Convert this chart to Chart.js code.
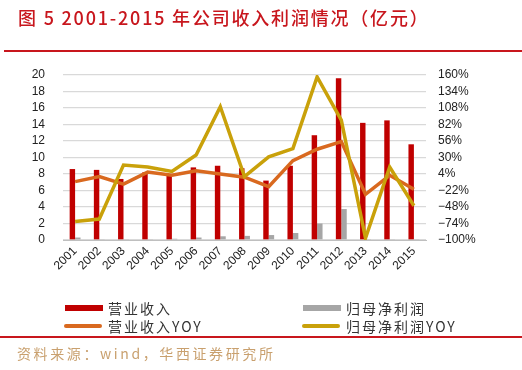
<!DOCTYPE html>
<html>
<head>
<meta charset="utf-8">
<script src="https://cdn.jsdelivr.net/npm/chart.js@4/dist/chart.umd.min.js"></script>
<style>
    body { margin: 0; width: 522px; height: 370px; background: #fff; position: relative; overflow: hidden; font-family: "Noto Sans CJK SC", sans-serif; }
    #chart { position: absolute; left: 0; top: 0; }
    .title { position: absolute; left: 18px; top: 4px; font-size: 18px; color: #c8161d; letter-spacing: 1.8px; white-space: nowrap; font-weight: 500; }
    .rule { position: absolute; left: 4px; right: 0; height: 2px; background: #c8161d; }
    .lg { position: absolute; font-size: 14px; color: #333; letter-spacing: 2px; white-space: nowrap; line-height: 16px; }
    .sw { position: absolute; width: 38px; }
    .src { position: absolute; left: 17px; top: 343px; font-size: 14px; color: #c9a06e; letter-spacing: 2.6px; white-space: nowrap; }
</style>
</head>
<body>
<canvas id="chart" width="522" height="370"></canvas>
<div class="title">图 5 2001-2015 年公司收入利润情况（亿元）</div>
<div class="rule" style="top:50px"></div>

<div class="sw" style="left:65px; top:305px; height:6px; background:#c00000"></div>
<div class="lg" style="left:108px; top:300px">营业收入</div>
<div class="sw" style="left:303px; top:305px; height:6px; background:#a6a6a6"></div>
<div class="lg" style="left:346px; top:300px">归母净利润</div>
<div class="sw" style="left:64px; top:324px; height:4px; border-radius:2px; background:#d9691f"></div>
<div class="lg" style="left:108px; top:318px">营业收入YOY</div>
<div class="sw" style="left:302px; top:324px; height:4px; border-radius:2px; background:#c9a10a"></div>
<div class="lg" style="left:346px; top:318px">归母净利润YOY</div>

<div class="rule" style="top:336px; left:0"></div>
<div class="src">资料来源：wind，华西证券研究所</div>

<script>
// 数据
const years = ['2001', '2002', '2003', '2004', '2005', '2006', '2007', '2008', '2009', '2010', '2011', '2012', '2013', '2014', '2015']
const revenue = [8.6, 8.5, 7.4, 8.2, 7.9, 8.8, 9.0, 8.7, 7.2, 9.0, 12.7, 19.6, 14.2, 14.5, 11.6]
const profit = [0.3, 0.1, 0.1, 0.1, 0.15, 0.3, 0.45, 0.5, 0.6, 0.85, 2.0, 3.75, 0.05, 0.1, 0.05]
const revenueYoy = [-8, 0, -12, 7, 2, 9, 4, -1, -16, 25, 43, 55, -28, 2, -20]
const profitYoy = [-71, -67, 18, 15, 8, 34, 110, 0, 31, 44, 157, 89, -97, 15, -46]
const leftTicks = [0, 20, 2]
const rightTicks = [-100, 160, 26]

const tickFont = { family: 'Liberation Sans, Arial, sans-serif', size: 12 }

new Chart(document.getElementById('chart'), {
    type: 'bar',
    data: {
        labels: years,
        datasets: [{
            label: '营业收入YOY',
            type: 'line',
            data: revenueYoy,
            yAxisID: 'y1',
            borderColor: '#d9691f',
            borderWidth: 3.5,
            pointRadius: 0,
            tension: 0,
            order: 1
        }, {
            label: '归母净利润YOY',
            type: 'line',
            data: profitYoy,
            yAxisID: 'y1',
            borderColor: '#c9a10a',
            borderWidth: 3.5,
            pointRadius: 0,
            tension: 0,
            order: 0
        }, {
            label: '营业收入',
            data: revenue,
            yAxisID: 'y',
            backgroundColor: '#c00000',
            categoryPercentage: 0.45,
            barPercentage: 1,
            order: 3
        }, {
            label: '归母净利润',
            data: profit,
            yAxisID: 'y',
            backgroundColor: '#a6a6a6',
            categoryPercentage: 0.45,
            barPercentage: 1,
            order: 3
        }]
    },
    options: {
        responsive: false,
        animation: false,
        layout: { padding: { top: 75, left: 0, right: 0, bottom: 0 } },
        plugins: {
            legend: { display: false },
            title: { display: false },
            tooltip: { enabled: false }
        },
        scales: {
            x: {
                grid: { display: false, drawTicks: false },
                border: { color: '#bfbfbf', width: 1 },
                ticks: { color: '#222', font: tickFont, minRotation: 45, maxRotation: 45, padding: 4, autoSkip: false },
                afterFit: function(scale) { scale.height = 130 }
            },
            y: {
                position: 'left',
                min: leftTicks[0],
                max: leftTicks[1],
                ticks: { stepSize: leftTicks[2], color: '#222', font: tickFont, padding: 18, autoSkip: false },
                grid: { color: '#d9d9d9', lineWidth: 1.3, drawTicks: false },
                border: { display: false },
                afterFit: function(scale) { scale.width = 63 }
            },
            y1: {
                position: 'right',
                min: rightTicks[0],
                max: rightTicks[1],
                ticks: {
                    stepSize: rightTicks[2],
                    color: '#222',
                    font: tickFont,
                    padding: 12,
                    autoSkip: false,
                    callback: function(v) { return (v < 0 ? '\u2212' + Math.abs(v) : v) + '%' }
                },
                grid: { display: false, drawTicks: false },
                border: { display: false },
                afterFit: function(scale) { scale.width = 96 }
            }
        }
    }
})
</script>
</body>
</html>
